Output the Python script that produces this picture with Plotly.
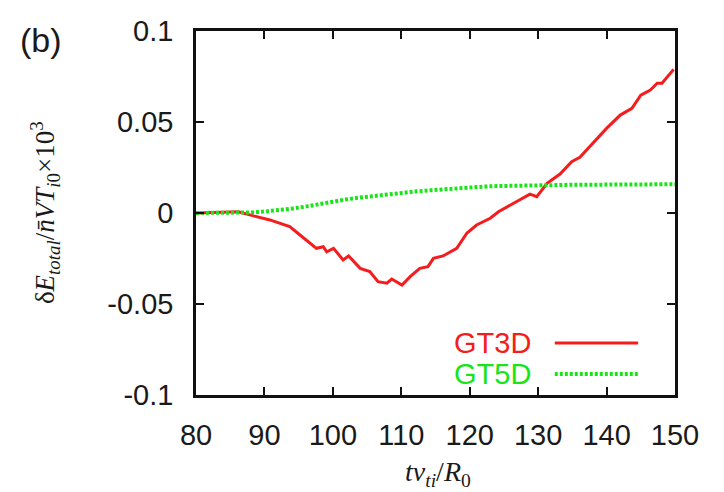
import plotly.graph_objects as go

# GT3D (red, solid)
gt3d_x = [80.0, 83.0, 86.2, 88.4, 90.8, 92.3, 93.7, 95.2, 96.7, 97.6, 98.6, 99.1, 100.1,
          101.5, 102.3, 104.0, 105.4, 106.6, 107.9, 108.6, 110.1, 111.3, 112.7, 113.9,
          114.7, 116.1, 118.1, 119.6, 121.0, 123.0, 124.2, 126.4, 128.8, 129.8, 131.3,
          133.2, 134.9, 136.1, 138.6, 140.0, 142.0, 143.7, 145.0, 146.4, 147.4, 148.1, 149.8]
gt3d_y = [0.0, 0.0003, 0.0007, -0.0016, -0.0038, -0.0057, -0.0075, -0.0121, -0.0167, -0.0194,
          -0.0185, -0.0213, -0.0194, -0.0258, -0.0236, -0.0304, -0.0322, -0.0377, -0.0386,
          -0.0363, -0.0396, -0.0350, -0.0304, -0.0295, -0.0249, -0.0236, -0.0194, -0.0110,
          -0.0066, -0.0029, 0.0007, 0.0053, 0.0104, 0.0090, 0.0163, 0.0214, 0.0282, 0.0306,
          0.0410, 0.0465, 0.0538, 0.0575, 0.0648, 0.0676, 0.0713, 0.0713, 0.0789]

# GT5D (green, dotted)
gt5d_x = [80, 85, 88, 90, 92, 94, 96, 98, 100, 102, 104, 106, 108, 110, 112, 114, 116,
          118, 120, 122, 124, 126, 128, 130, 135, 140, 145, 150]
gt5d_y = [0.0, 0.0, 0.0003, 0.0008, 0.0015, 0.0024, 0.0035, 0.0050, 0.0064, 0.0075, 0.0085,
          0.0094, 0.0103, 0.0111, 0.0118, 0.0124, 0.0130, 0.0136, 0.0141, 0.0145, 0.0148,
          0.0150, 0.0152, 0.0153, 0.0155, 0.0156, 0.0157, 0.0158]

x_ticks = [80, 90, 100, 110, 120, 130, 140, 150]
y_ticks = [-0.1, -0.05, 0, 0.05, 0.1]
y_tick_text = ["-0.1", "-0.05", "0", "0.05", "0.1"]

RED = "#f41c1c"
GREEN = "#18e418"
FONT = "Liberation Sans, Arial, sans-serif"
SERIF = "Liberation Serif, Times New Roman, serif"

fig = go.Figure()
fig.add_trace(go.Scatter(x=gt3d_x, y=gt3d_y, mode="lines", name="GT3D",
                         line=dict(color=RED, width=3)))
fig.add_trace(go.Scatter(x=gt5d_x, y=gt5d_y, mode="lines", name="GT5D",
                         line=dict(color=GREEN, width=4, dash="3px,2px")))

axis_common = dict(showline=True, linecolor="#111", linewidth=2.5, mirror="ticks",
                   ticks="inside", ticklen=8, tickwidth=2, tickcolor="#111",
                   showgrid=False, zeroline=False,
                   tickfont=dict(family=FONT, size=29, color="#1a1a1a"))

fig.update_xaxes(range=[80, 150], tickvals=x_ticks, ticklabelstandoff=12, **axis_common)
fig.update_yaxes(range=[-0.1, 0.1], tickvals=y_ticks, ticktext=y_tick_text,
                 ticklabelstandoff=14, **axis_common)

# Legend (text left of sample, as in the original)
legend_items = [("GT3D", RED, "solid", 3, 0.143), ("GT5D", GREEN, "3px,2px", 4, 0.058)]
for name, col, dash, w, yy in legend_items:
    fig.add_annotation(xref="paper", yref="paper", x=0.703, y=yy, text=name,
                       showarrow=False, xanchor="right", yanchor="middle",
                       font=dict(family=FONT, size=29, color=col))
    fig.add_shape(type="line", xref="paper", yref="paper", x0=0.749, x1=0.923,
                  y0=yy, y1=yy, line=dict(color=col, width=w, dash=dash))

# Axis titles
fig.add_annotation(xref="paper", yref="paper", x=0.505, y=-0.215,
                   text="<i>tv</i><sub><i>ti</i></sub>/<i>R</i><sub>0</sub>",
                   showarrow=False, xanchor="center", yanchor="middle",
                   font=dict(family=SERIF, size=28, color="#1a1a1a"))
fig.add_annotation(xref="paper", yref="paper", x=-0.315, y=0.5,
                   text="δ<i>E</i><sub><i>total</i></sub>/<i>n̄VT</i><sub><i>i</i>0</sub>×10<sup>3</sup>",
                   showarrow=False, textangle=-90, xanchor="center", yanchor="middle",
                   font=dict(family=SERIF, size=27, color="#1a1a1a"))
fig.add_annotation(xref="paper", yref="paper", x=-0.372, y=0.975, text="(b)",
                   showarrow=False, xanchor="left", yanchor="middle",
                   font=dict(family=FONT, size=34, color="#1a1a1a"))

fig.update_layout(width=724, height=492, margin=dict(l=196, r=49, t=31, b=97),
                  plot_bgcolor="white", paper_bgcolor="white", showlegend=False)

fig.write_html("out.html")
